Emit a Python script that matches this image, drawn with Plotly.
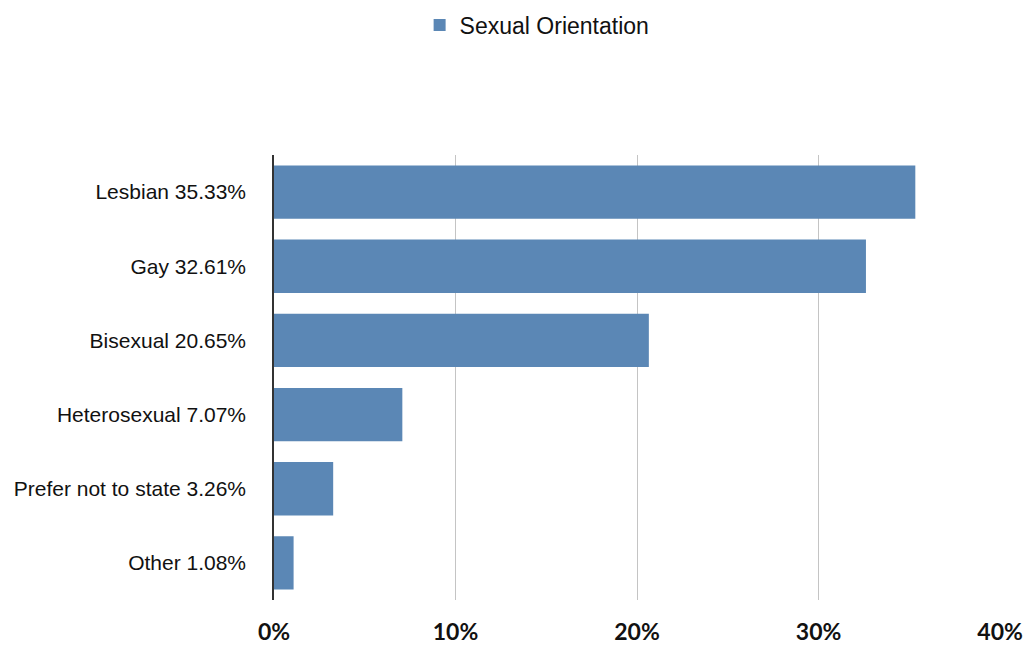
import plotly.graph_objects as go

categories = ["Lesbian 35.33%", "Gay 32.61%", "Bisexual 20.65%", "Heterosexual 7.07%",
              "Prefer not to state 3.26%", "Other 1.08%"]
values = [35.33, 32.61, 20.65, 7.07, 3.26, 1.08]
tick_vals = [0, 10, 20, 30, 40]
tick_text = ["0%", "10%", "20%", "30%", "40%"]

fig = go.Figure()
fig.add_trace(go.Bar(
    y=categories, x=values, orientation="h", name="Sexual Orientation",
    marker=dict(color="#5b87b5", line=dict(width=0)), width=0.72,
))

fig.update_layout(
    width=1027, height=645,
    margin=dict(l=274, r=26, t=155, b=45),
    plot_bgcolor="white", paper_bgcolor="white",
    showlegend=True,
    legend=dict(orientation="h", xref="container", yref="container",
                x=0.523, y=1 - 25 / 645, xanchor="center", yanchor="middle",
                font=dict(family="Liberation Sans, Arial", size=23, color="#111"),
                itemsizing="constant"),
    xaxis=dict(range=[0, 40.05], tickvals=tick_vals, ticktext=tick_text,
               showgrid=True, gridcolor="#c4c4c4", gridwidth=1.3,
               zeroline=False, showline=False, ticks="", automargin=False,
               ticklabelstandoff=16,
               tickfont=dict(family="Lato, sans-serif", size=23, color="#111",
                             weight="bold")),
    yaxis=dict(autorange="reversed", showline=True, linecolor="#333", linewidth=1.5,
               showgrid=False, ticks="", ticklabelstandoff=22, automargin=False,
               tickfont=dict(family="Liberation Sans, Arial", size=21, color="#111")),
    bargap=0.28,
)

fig.write_html("out.html")
